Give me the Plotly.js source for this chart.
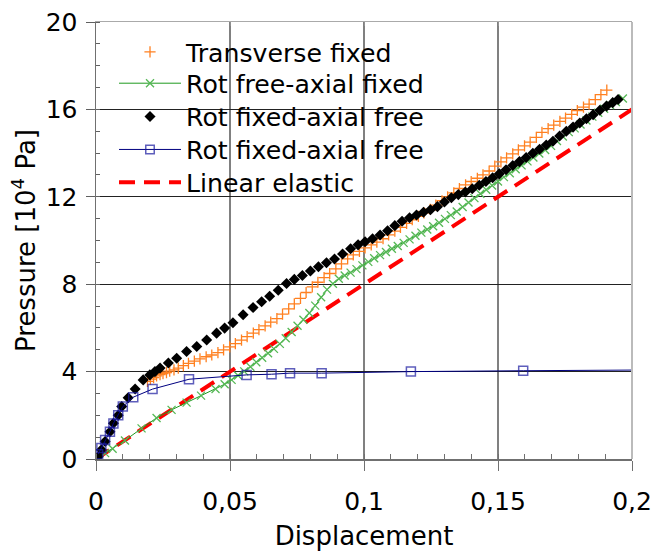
<!DOCTYPE html>
<html>
<head>
<meta charset="utf-8">
<script src="https://cdn.plot.ly/plotly-3.0.1.min.js"></script>
<style>html,body{margin:0;padding:0;background:#fff;}#chart{width:655px;height:558px;}</style>
</head>
<body>
<div id="chart"></div>
<script>
// ---------- data ----------
var seriesNames = ['Transverse fixed', 'Rot free-axial fixed', 'Rot fixed-axial free', 'Rot fixed-axial free', 'Linear elastic'];

var transX = [0.0192,0.0203,0.0215,0.0226,0.0239,0.0250,0.0263,0.0275,0.0291,0.0307,0.0326,0.0345,0.0367,0.0388,0.0411,0.0432,0.0455,0.0476,0.0499,0.0520,0.0543,0.0564,0.0587,0.0608,0.0631,0.0652,0.0675,0.0696,0.0719,0.0740,0.0763,0.0784,0.0807,0.0828,0.0851,0.0872,0.0895,0.0916,0.0939,0.0960,0.0983,0.1004,0.1027,0.1048,0.1071,0.1092,0.1115,0.1136,0.1159,0.1180,0.1203,0.1224,0.1247,0.1268,0.1291,0.1312,0.1335,0.1356,0.1379,0.1400,0.1423,0.1444,0.1467,0.1488,0.1511,0.1532,0.1555,0.1576,0.1599,0.1620,0.1643,0.1664,0.1687,0.1708,0.1731,0.1752,0.1775,0.1796,0.1819,0.1840,0.1863,0.1884,0.1906];
var transY = [3.55,3.66,3.72,3.80,3.86,3.91,3.95,4.02,4.08,4.16,4.27,4.38,4.48,4.58,4.68,4.76,4.87,4.99,5.13,5.28,5.44,5.60,5.76,5.92,6.09,6.26,6.42,6.63,6.87,7.10,7.35,7.62,7.88,8.09,8.30,8.49,8.70,8.93,9.16,9.34,9.50,9.66,9.80,9.93,10.08,10.26,10.43,10.60,10.78,10.95,11.10,11.26,11.43,11.62,11.82,12.00,12.18,12.38,12.55,12.70,12.85,13.00,13.18,13.40,13.60,13.78,13.96,14.15,14.33,14.50,14.72,14.95,15.12,15.28,15.45,15.60,15.77,15.95,16.10,16.24,16.45,16.68,16.88];

var rotFreeX = [0,0.0034,0.0062,0.0108,0.0170,0.0226,0.0282,0.0338,0.0392,0.0446,0.0480,0.0506,0.0530,0.0553,0.0576,0.0598,0.0620,0.0642,0.0664,0.0686,0.0708,0.0730,0.0752,0.0774,0.0796,0.0818,0.0840,0.0862,0.0884,0.0906,0.0928,0.0950,0.0972,0.0994,0.1016,0.1038,0.1060,0.1082,0.1104,0.1126,0.1148,0.1170,0.1192,0.1214,0.1236,0.1258,0.1280,0.1302,0.1324,0.1346,0.1368,0.1390,0.1412,0.1434,0.1456,0.1478,0.1500,0.1522,0.1544,0.1566,0.1588,0.1610,0.1632,0.1654,0.1676,0.1698,0.1720,0.1742,0.1764,0.1786,0.1808,0.1830,0.1852,0.1874,0.1896,0.1918,0.1940,0.1966];
var rotFreeY = [0,0.27,0.47,0.85,1.40,1.88,2.25,2.58,2.90,3.20,3.42,3.62,3.82,4.01,4.22,4.43,4.63,4.84,5.04,5.27,5.53,5.81,6.10,6.37,6.68,7.02,7.40,7.75,8.02,8.25,8.40,8.53,8.69,8.86,9.02,9.19,9.33,9.47,9.62,9.75,9.89,10.05,10.22,10.36,10.50,10.65,10.81,10.99,11.16,11.33,11.53,11.74,11.94,12.14,12.32,12.52,12.70,12.90,13.08,13.26,13.44,13.62,13.80,13.98,14.14,14.33,14.55,14.76,14.96,15.13,15.31,15.49,15.67,15.85,16.03,16.20,16.34,16.50];

var rotFixedX = [0.0008,0.0020,0.0034,0.0052,0.0065,0.0083,0.0096,0.0120,0.0146,0.0176,0.0201,0.0220,0.0239,0.0270,0.0301,0.0338,0.0376,0.0413,0.0450,0.0480,0.0511,0.0549,0.0586,0.0618,0.0648,0.0680,0.0711,0.0740,0.0770,0.0800,0.0830,0.0860,0.0890,0.0920,0.0950,0.0978,0.1004,0.1032,0.1060,0.1088,0.1115,0.1142,0.1170,0.1196,0.1222,0.1248,0.1274,0.1300,0.1326,0.1352,0.1378,0.1404,0.1430,0.1455,0.1480,0.1505,0.1530,0.1555,0.1580,0.1605,0.1630,0.1655,0.1680,0.1705,0.1730,0.1755,0.1780,0.1805,0.1830,0.1855,0.1880,0.1905,0.1928,0.1948];
var rotFixedY = [0.10,0.42,0.80,1.25,1.64,2.00,2.40,2.80,3.20,3.62,3.85,4.00,4.16,4.39,4.61,4.92,5.15,5.45,5.76,5.99,6.24,6.60,6.93,7.20,7.45,7.72,8.03,8.22,8.40,8.60,8.80,8.98,9.15,9.38,9.62,9.80,9.94,10.08,10.25,10.45,10.68,10.88,11.04,11.17,11.29,11.41,11.55,11.76,11.96,12.10,12.22,12.37,12.53,12.70,12.87,13.05,13.24,13.43,13.61,13.80,13.99,14.18,14.37,14.54,14.78,15.00,15.19,15.38,15.57,15.76,15.96,16.15,16.31,16.45];

var rotFixed2X = [0.0008,0.0020,0.0034,0.0052,0.0065,0.0083,0.0100,0.0139,0.0211,0.0347,0.0562,0.0655,0.0724,0.0842,0.1175,0.1594,0.2000];
var rotFixed2Y = [0.22,0.50,0.87,1.25,1.63,2.00,2.40,2.83,3.20,3.65,3.85,3.88,3.93,3.93,4.00,4.04,4.07];

var linearX = [0, 0.2];
var linearY = [0, 16];

var xTickVals = [0, 0.05, 0.1, 0.15, 0.2];
var xTickText = ['0', '0,05', '0,1', '0,15', '0,2'];
var yTickVals = [0, 4, 8, 12, 16, 20];
var yTickText = ['0', '4', '8', '12', '16', '20'];

// ---------- chart ----------
var FONT = 'DejaVu Sans, Liberation Sans, Arial, sans-serif';
var blueSizes = rotFixed2X.map(function (v, i) { return i === rotFixed2X.length - 1 ? 0 : 9; });

var traces = [
  { x: linearX, y: linearY, name: seriesNames[4], type: 'scatter', mode: 'lines', legend: 'legend5',
    line: { color: '#ff0000', width: 4, dash: '16px,9px' } },
  { x: rotFreeX, y: rotFreeY, name: seriesNames[1], type: 'scatter', mode: 'lines+markers', legend: 'legend2',
    line: { color: '#1f9a1f', width: 1 },
    marker: { symbol: 'x-thin', size: 8, line: { color: '#55b855', width: 1.3 } } },
  { x: transX, y: transY, name: seriesNames[0], type: 'scatter', mode: 'markers', legend: 'legend',
    marker: { symbol: 'cross-thin', size: 8, line: { color: '#ff8020', width: 1.3 } } },
  { x: rotFixedX, y: rotFixedY, name: seriesNames[2], type: 'scatter', mode: 'markers', legend: 'legend3',
    marker: { symbol: 'diamond', size: 8.5, color: '#000000' } },
  { x: rotFixed2X, y: rotFixed2Y, name: seriesNames[3], type: 'scatter', mode: 'lines+markers', legend: 'legend4',
    line: { color: '#000080', width: 1 },
    marker: { symbol: 'square-open', size: blueSizes, color: '#1a1aa0', line: { width: 1.5 } } },
  { x: [0.1], y: [0], xaxis: 'x2', showlegend: false, hoverinfo: 'skip', mode: 'markers',
    marker: { opacity: 0 } }
];

function legendAt(yPaper) {
  return {
    x: 0.0336, y: yPaper, xanchor: 'left', yanchor: 'middle',
    bgcolor: 'rgba(0,0,0,0)', borderwidth: 0,
    font: { family: FONT, size: 25.2, color: '#000000' },
    itemwidth: 62, tracegroupgap: 0
  };
}

var layout = {
  width: 655, height: 558,
  margin: { l: 96, r: 23, t: 22, b: 99 },
  paper_bgcolor: '#ffffff', plot_bgcolor: '#ffffff',
  font: { family: FONT, size: 25, color: '#000000' },
  showlegend: true,
  legend: legendAt(0.9314),
  legend2: legendAt(0.8597),
  legend3: legendAt(0.7833),
  legend4: legendAt(0.7081),
  legend5: legendAt(0.6329),
  xaxis: {
    range: [0, 0.2], tickvals: xTickVals, ticktext: xTickText,
    ticks: 'outside', ticklen: 10, tickwidth: 1, tickcolor: '#707070',
    ticklabelstandoff: 9,
    showline: true, linecolor: '#707070', linewidth: 2,
    showgrid: true, gridcolor: '#808080', gridwidth: 1.5,
    zeroline: false, automargin: false,
    minor: { dtick: 0.01, ticks: 'inside', ticklen: 5, tickcolor: '#707070', showgrid: false },
    tickfont: { family: FONT, size: 25, color: '#000000' },
    title: { text: 'Displacement', font: { family: FONT, size: 26, color: '#000000' }, standoff: 12 }
  },
  xaxis2: {
    range: [0, 0.2], overlaying: 'x', side: 'top', tickvals: xTickVals,
    ticks: 'inside', ticklen: 4, tickcolor: '#909090', showticklabels: false,
    showline: true, linecolor: '#aaaaaa', linewidth: 1.5,
    showgrid: false, zeroline: false, automargin: false
  },
  yaxis: {
    range: [0, 20], tickvals: yTickVals, ticktext: yTickText,
    ticks: 'outside', ticklen: 9, tickwidth: 1, tickcolor: '#606060',
    ticklabelstandoff: 3,
    showline: true, linecolor: '#707070', linewidth: 1.5,
    showgrid: true, gridcolor: '#222222', gridwidth: 1,
    zeroline: false, automargin: false,
    minor: { dtick: 1, ticks: 'inside', ticklen: 4, tickcolor: '#606060', showgrid: false },
    tickfont: { family: FONT, size: 25, color: '#000000' },
    title: { text: 'Pressure [10<sup>4</sup> Pa]', font: { family: FONT, size: 26, color: '#000000' }, standoff: 2 }
  },
  shapes: [
    { type: 'rect', xref: 'paper', yref: 'paper', x0: 0.015, x1: 0.6455, y0: 0.588, y1: 0.988,
      fillcolor: '#ffffff', line: { width: 0 }, layer: 'between' },
    { type: 'line', xref: 'paper', yref: 'paper', x0: 1, x1: 1, y0: 0, y1: 1,
      line: { color: '#bbbbbb', width: 2 } }
  ]
};

Plotly.newPlot('chart', traces, layout, { staticPlot: true, displayModeBar: false });
</script>
</body>
</html>
